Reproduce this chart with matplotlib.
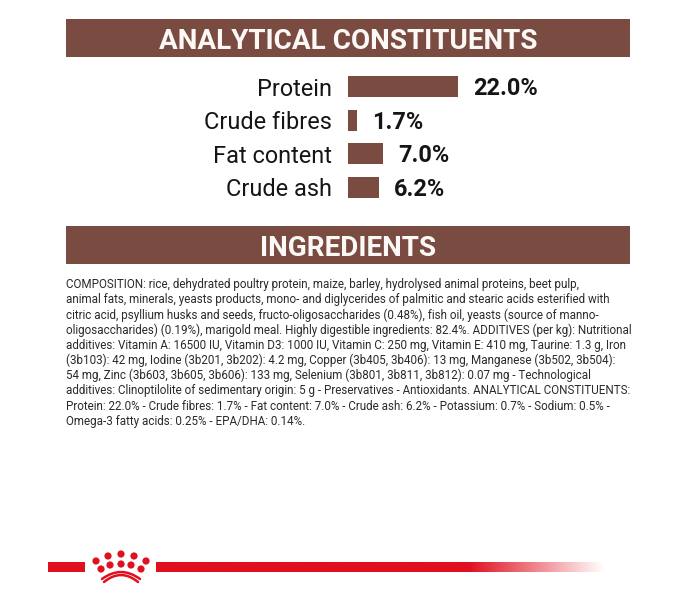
import numpy as np
import matplotlib; matplotlib.use("Agg")
import matplotlib.pyplot as plt
from matplotlib.patches import Rectangle, Circle, PathPatch
from matplotlib.path import Path
from matplotlib.colors import to_rgb

plt.rcParams['font.family'] = ['Roboto', 'DejaVu Sans']

BROWN = "#7a4b40"
RED = "#e0101f"
W, H = 696, 600

categories = ["Protein", "Crude fibres", "Fat content", "Crude ash"]
values = [22.0, 1.7, 7.0, 6.2]
value_labels = ["22.0%", "1.7%", "7.0%", "6.2%"]
headings = ["ANALYTICAL CONSTITUENTS", "INGREDIENTS"]
body_lines = [
    "COMPOSITION: rice, dehydrated poultry protein, maize, barley, hydrolysed animal proteins, beet pulp,",
    "animal fats, minerals, yeasts products, mono- and diglycerides of palmitic and stearic acids esterified with",
    "citric acid, psyllium husks and seeds, fructo-oligosaccharides (0.48%), fish oil, yeasts (source of manno-",
    "oligosaccharides) (0.19%), marigold meal. Highly digestible ingredients: 82.4%. ADDITIVES (per kg): Nutritional",
    "additives: Vitamin A: 16500 IU, Vitamin D3: 1000 IU, Vitamin C: 250 mg, Vitamin E: 410 mg, Taurine: 1.3 g, Iron",
    "(3b103): 42 mg, Iodine (3b201, 3b202): 4.2 mg, Copper (3b405, 3b406): 13 mg, Manganese (3b502, 3b504):",
    "54 mg, Zinc (3b603, 3b605, 3b606): 133 mg, Selenium (3b801, 3b811, 3b812): 0.07 mg - Technological",
    "additives: Clinoptilolite of sedimentary origin: 5 g - Preservatives - Antioxidants. ANALYTICAL CONSTITUENTS:",
    "Protein: 22.0% - Crude fibres: 1.7% - Fat content: 7.0% - Crude ash: 6.2% - Potassium: 0.7% - Sodium: 0.5% -",
    "Omega-3 fatty acids: 0.25% - EPA/DHA: 0.14%.",
]

def px(size):
    return size * 0.72

fig = plt.figure(figsize=(W / 100, H / 100), dpi=100, facecolor="white")

# page layer in pixel coords, y down
bg = fig.add_axes([0, 0, 1, 1])
bg.set_xlim(0, W); bg.set_ylim(H, 0); bg.axis("off")

for (top, bot), head in zip([(19, 57), (226, 264)], headings):
    bg.add_patch(Rectangle((66, top), 564, bot - top, fc=BROWN, ec="none"))
    bg.text(348, (top + bot) / 2 + 0.5, head, color="#fbf8f5", fontsize=px(27.9), weight="bold",
            ha="center", va="center_baseline")

for i, line in enumerate(body_lines):
    bg.text(66, 284.5 + i * 15.2, line, color="#2a2a2a", fontsize=px(11.6), ha="left", va="center")

# bottom ribbon
bg.add_patch(Rectangle((48, 562), 37, 10, fc=RED, ec="none"))
grad = np.ones((1, 256, 4))
grad[..., :3] = to_rgb(RED)
grad[..., 3] = np.clip((1 - np.linspace(0, 1, 256)) / 0.3, 0, 1)
bg.imshow(grad, extent=(156, 605, 572, 562), aspect="auto", interpolation="bilinear", zorder=1)
bg.set_xlim(0, W); bg.set_ylim(H, 0)

# crown
cx = 121
for dx, dy in zip((-25, -13, 0, 13, 25), (7, 2, 0, 2, 7)):
    bg.add_patch(Circle((cx + dx, 554 + dy), 3.6, fc=RED, ec="none", zorder=3))
for dx, dy in zip((-20, -11, 0, 10, 20), (15, 11, 10, 11, 15)):
    bg.add_patch(Circle((cx + dx, 554 + dy), 3.6, fc=RED, ec="none", zorder=3))
for y_end, y_peak, half in [(579, 572, 19), (582, 575, 17)]:
    arc = Path([(cx - half, y_end), (cx, y_peak * 2 - y_end), (cx + half, y_end)],
               [Path.MOVETO, Path.CURVE3, Path.CURVE3])
    bg.add_patch(PathPatch(arc, fc="none", ec=RED, lw=1.8, capstyle="round", zorder=3))

# bars, 5 px per percentage point from x=348
ax = fig.add_axes([348 / W, 1 - 204 / H, 200 / W, (204 - 70) / H])
ax.patch.set_alpha(0)
ax.set_xlim(0, 40)
ax.set_ylim(3.5, -0.5)
y = np.arange(len(categories))
ax.barh(y, values, height=0.62, color=BROWN)
ax.set_yticks(y, categories, fontsize=px(23.5), color="#151515")
ax.tick_params(axis="y", length=0, pad=11.5)
ax.set_xticks([])
for s in ax.spines.values():
    s.set_visible(False)
for yi, v, lab in zip(y, values, value_labels):
    ax.annotate(lab, (v, yi), xytext=(11, -1.5), textcoords="offset points", fontsize=px(23.5),
                weight="bold", color="#151515", ha="left", va="center")

fig.savefig("out.png", dpi=100)
